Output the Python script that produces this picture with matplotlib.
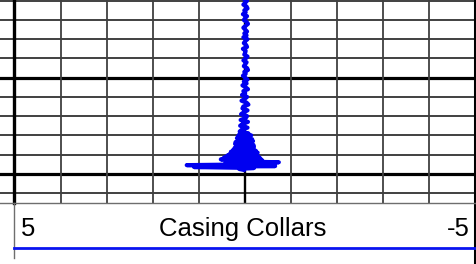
import numpy as np
import matplotlib
matplotlib.use("Agg")
import matplotlib.pyplot as plt
from matplotlib.lines import Line2D

# ---------------- data ----------------
curve_name = "Casing Collars"
scale_left = 5
scale_right = -5

# depth sampling (ft) - 1 ft in upper section, 0.5 ft in collar section
depth_upper = np.arange(2958.0, 3030.0, 1.0)
ccl_upper = [-0.02, 0.02, -0.05, -0.01, 0.03, -0.04, -0.06, 0.01, -0.02, 0.04,
             -0.05, -0.01, 0.02, -0.04, -0.07, -0.02, 0.03, -0.01, -0.05, 0.01,
             -0.04, 0.03, -0.06, -0.01, 0.02, -0.03, -0.05, 0.04, -0.02, -0.01,
             0.01, -0.06, -0.02, 0.03, -0.04, -0.01, 0.02, -0.05, -0.07, 0.01,
             -0.02, 0.04, -0.01, -0.06, 0.02, -0.04, 0.05, -0.02, -0.07, 0.03,
             -0.01, 0.06, -0.05, 0.00, 0.07, -0.04, -0.08, 0.03, 0.05, -0.06,
             0.02, 0.08, -0.05, -0.02, 0.09, -0.07, 0.04, 0.10, -0.06, 0.06,
             0.11, -0.08]
depth_lower = np.arange(3029.5, 3048.25, 0.5)
ccl_lower = [0.12, -0.14, 0.15, -0.10, 0.17, -0.16, 0.08, -0.18, 0.20, -0.12,
             0.21, -0.19, 0.14, -0.20, 0.22, -0.15, 0.25, -0.24, 0.30, -0.28,
             0.32, -0.22, 0.38, -0.30, 0.45, -0.34, 0.52, -0.38, 0.30, -0.74,
             0.42, -0.50, 1.26, -0.66, 1.10, -0.20, 0.12, 0.02]

depth = np.concatenate([depth_upper, depth_lower])
ccl = np.concatenate([ccl_upper, ccl_lower])

# grid
x_grid = [4, 3, 2, 1, -1, -2, -3, -4]
depth_thin = [2960, 2970, 2980, 2990, 3010, 3020, 3030, 3040, 3060]
depth_thick = [3000, 3050]
depth_top, depth_bottom = 2959.6, 3065.2

# ---------------- figure ----------------
W, H = 477, 264
fig = plt.figure(figsize=(W / 100, H / 100), dpi=100)
fig.patch.set_facecolor("white")

def fx(x):
    return x / W

def fy(y):
    return 1 - y / H

track_l, track_r, track_b = 14.5, 475.0, 203.0
ax = fig.add_axes([fx(track_l), fy(track_b), fx(track_r - track_l), track_b / H])
strip = fig.add_axes([0, fy(track_b), fx(track_l), track_b / H], sharey=ax)

for a in (ax, strip):
    a.set_ylim(depth_bottom, depth_top)
    for s in a.spines.values():
        s.set_visible(False)
    a.set_xticks([])
    a.set_yticks([])
    a.set_facecolor("white")
ax.set_xlim(scale_left, scale_right)
strip.set_xlim(0, 1)

thin_c = "#202020"
for d in depth_thin:
    ax.axhline(d, color=thin_c, lw=1.2, zorder=1)
    strip.axhline(d, color=thin_c, lw=1.2, zorder=1)
for d in depth_thick:
    ax.axhline(d, color="black", lw=2.3, zorder=1)
    strip.axhline(d, color="black", lw=2.3, zorder=1)
for x in x_grid:
    ax.axvline(x, color="#404040", lw=1.3, zorder=1)
ax.axvline(0, color="black", lw=1.7, zorder=1)

ax.plot(ccl, depth, color="#0000f0", lw=3.0, zorder=3, clip_on=True)

# track borders (figure coords)
def fline(x0, y0, x1, y1, **kw):
    fig.add_artist(Line2D([fx(x0), fx(x1)], [fy(y0), fy(y1)],
                          transform=fig.transFigure, **kw))

fline(track_l, 0, track_l, 203, color="black", lw=2.4, zorder=5)
fline(track_r, 0, track_r, 264, color="black", lw=2.2, zorder=5)
fline(0, 203, track_r, 203, color="#6e6e6e", lw=1.0, zorder=5)
fline(track_l, 203, track_l, 258, color="#6e6e6e", lw=1.0, zorder=5)
fline(track_l, 248, track_r, 248, color="#0a14f0", lw=2.0, zorder=5)

# header text
font = dict(family=["Liberation Sans", "DejaVu Sans"], size=18.5, color="black")
fig.text(fx(20.5), fy(236), str(scale_left), ha="left", va="baseline", **font)
fig.text(fx(243), fy(236), curve_name, ha="center", va="baseline", **font)
fig.text(fx(469.5), fy(236), str(scale_right), ha="right", va="baseline", **font)

fig.savefig("out.png", dpi=100, facecolor="white")
